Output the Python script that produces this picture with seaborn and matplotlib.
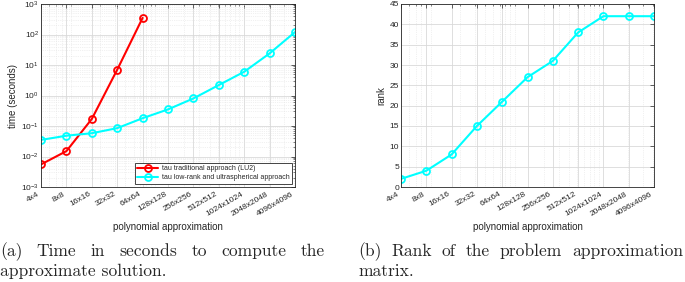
import numpy as np
import pandas as pd
import matplotlib
matplotlib.use("Agg")
import matplotlib.pyplot as plt
import matplotlib.ticker as mticker
import seaborn as sns

sizes = [4, 8, 16, 32, 64, 128, 256, 512, 1024, 2048, 4096]
tick_labels = [f"{n}x{n}" for n in sizes]
time_lu2 = [0.0055, 0.015, 0.17, 7.0, 350.0]
time_lowrank = [0.035, 0.048, 0.058, 0.085, 0.18, 0.35, 0.8, 2.2, 6.0, 24.0, 120.0]
rank_vals = [2, 4, 8, 15, 21, 27, 31, 38, 42, 42, 42]
series_names = ["tau traditional approach (LU2)", "tau low-rank and ultraspherical approach"]

sns.set_style("white")
plt.rcParams['font.family'] = ['Liberation Sans', 'DejaVu Sans']
plt.rcParams['mathtext.fontset'] = 'custom'
plt.rcParams['mathtext.rm'] = 'Liberation Sans'

W, H = 685, 282
fig = plt.figure(figsize=(W / 100, H / 100), dpi=100)

def ax_rect(x0, x1, y0, y1):
    return [x0 / W, 1 - y1 / H, (x1 - x0) / W, (y1 - y0) / H]

ax1 = fig.add_axes(ax_rect(41, 295, 4, 187))
ax2 = fig.add_axes(ax_rect(401, 654, 4, 187))

red = "#ff0000"
cyan = "#00ffff"

df1 = pd.DataFrame({"n": sizes[:len(time_lu2)], "t": time_lu2})
df2 = pd.DataFrame({"n": sizes, "t": time_lowrank})
df3 = pd.DataFrame({"n": sizes, "r": rank_vals})

mk = dict(marker="o", markersize=5, markerfacecolor="none", markeredgewidth=1.3, linewidth=1.5)
sns.lineplot(data=df1, x="n", y="t", ax=ax1, color=red, markeredgecolor=red, label=series_names[0], **mk)
sns.lineplot(data=df2, x="n", y="t", ax=ax1, color=cyan, markeredgecolor=cyan, label=series_names[1], **mk)
sns.lineplot(data=df3, x="n", y="r", ax=ax2, color=cyan, markeredgecolor=cyan, legend=False, **mk)

for ax in (ax1, ax2):
    ax.set_xscale("log")
    ax.set_xlim(4, 4096)
    ax.set_xticks(sizes)
    ax.set_xticklabels(tick_labels, rotation=30, fontsize=6, color="#262626", ha="right")
    ax.xaxis.set_minor_locator(mticker.LogLocator(base=10, subs=np.arange(2, 10), numticks=20))
    ax.xaxis.set_minor_formatter(mticker.NullFormatter())
    ax.grid(True, which="major", color="#d9d9d9", linewidth=0.6)
    ax.grid(True, which="minor", color="#e3e3e3", linewidth=0.5, linestyle=":")
    ax.set_xlabel("polynomial approximation", fontsize=7, color="#262626", labelpad=3)
    for s in ax.spines.values():
        s.set_color("#262626")
        s.set_linewidth(0.6)
    ax.tick_params(axis="both", which="major", direction="in", length=3, width=0.5,
                   labelsize=6, colors="#262626", top=True, right=True, pad=1.5)
    ax.tick_params(axis="x", which="major", pad=2.5)
    ax.tick_params(axis="both", which="minor", direction="in", length=1.5, width=0.4, top=True, right=True)

ax1.set_yscale("log")
ax1.set_ylim(1e-3, 1e3)
ax1.yaxis.set_major_locator(mticker.LogLocator(base=10, numticks=10))
ax1.yaxis.set_minor_locator(mticker.LogLocator(base=10, subs=np.arange(2, 10), numticks=20))
ax1.yaxis.set_minor_formatter(mticker.NullFormatter())
ax1.set_ylabel("time (seconds)", fontsize=7, color="#262626", labelpad=2)

ax2.set_ylim(0, 45)
ax2.set_yticks(np.arange(0, 46, 5))
ax2.yaxis.set_minor_locator(mticker.NullLocator())
ax2.set_ylabel("rank", fontsize=7, color="#262626", labelpad=2)

leg = ax1.legend(loc="lower right", fontsize=5, frameon=True, fancybox=False,
                 edgecolor="#262626", framealpha=1, borderpad=0.3, handlelength=3,
                 handletextpad=0.5, labelspacing=0.3, borderaxespad=0.5)
leg.get_frame().set_linewidth(0.6)

cap = dict(fontsize=12.6, family="cmr10", va="baseline")
def justify(words, x0, x1, y):
    ts = [fig.text(0, 1 - y / H, w, **cap) for w in words]
    fig.canvas.draw()
    r = fig.canvas.get_renderer()
    widths = [t.get_window_extent(r).width for t in ts]
    gap = (x1 - x0 - sum(widths)) / (len(words) - 1)
    x = x0
    for t, w in zip(ts, widths):
        t.set_x(x / W)
        x += w + gap

justify(["(a)", "Time", "in", "seconds", "to", "compute", "the"], 0, 325, 256)
fig.text(0, 1 - 276 / H, "approximate solution.", **cap)
justify(["(b)", "Rank", "of", "the", "problem", "approximation"], 358, 683, 256)
fig.text(358 / W, 1 - 276 / H, "matrix.", **cap)

fig.savefig("out.png", dpi=100)
